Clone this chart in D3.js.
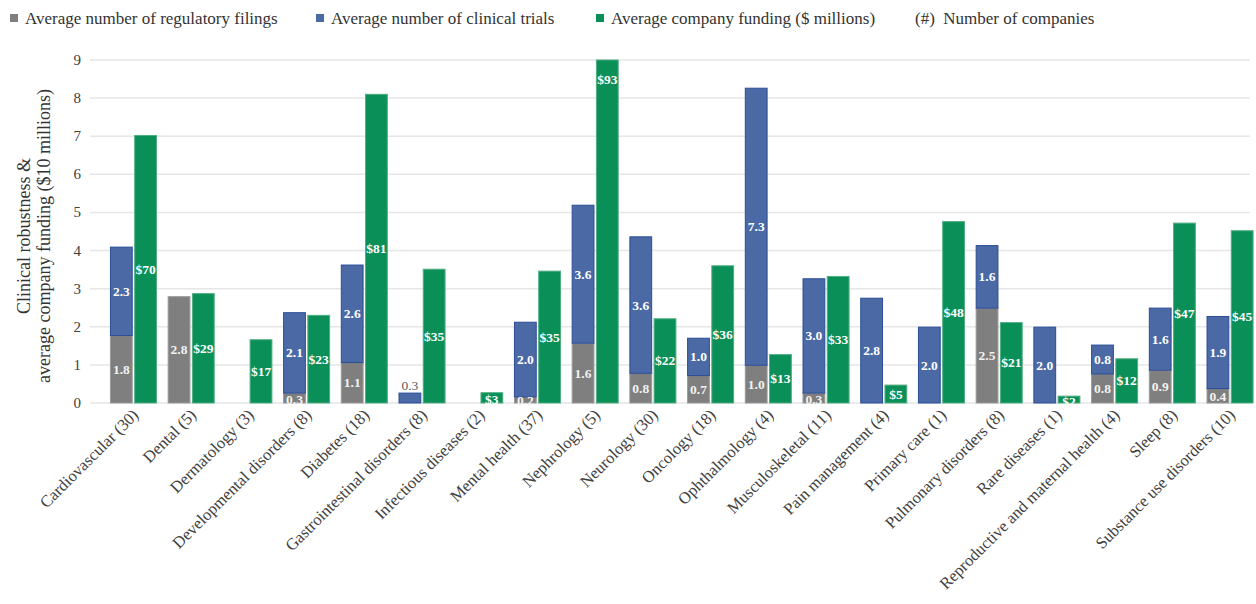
<!DOCTYPE html>
<html><head><meta charset="utf-8">
<script src="https://cdn.jsdelivr.net/npm/d3@7"></script>
<style>body{margin:0;background:#fff;}</style>
</head><body>
<script>
const categories = ["Cardiovascular (30)","Dental (5)","Dermatology (3)","Developmental disorders (8)","Diabetes (18)","Gastrointestinal disorders (8)","Infectious diseases (2)","Mental health (37)","Nephrology (5)","Neurology (30)","Oncology (18)","Ophthalmology (4)","Musculoskeletal (11)","Pain management (4)","Primary care (1)","Pulmonary disorders (8)","Rare diseases (1)","Reproductive and maternal health (4)","Sleep (8)","Substance use disorders (10)"];
const regulatoryFilings = [1.77,2.79,0,0.26,1.06,0,0,0.16,1.57,0.78,0.72,0.99,0.26,0,0,2.49,0,0.76,0.86,0.38];
const clinicalTrials    = [2.32,0,0,2.11,2.56,0.26,0,1.96,3.62,3.58,0.98,7.27,3.0,2.75,1.99,1.64,1.99,0.76,1.63,1.89];
const companyFunding    = [7.02,2.87,1.66,2.30,8.10,3.51,0.27,3.46,9.30,2.21,3.60,1.27,3.32,0.47,4.76,2.11,0.18,1.16,4.72,4.52]; // $10 millions
const yTicks = [0,1,2,3,4,5,6,7,8,9];
const legendLabels = ["Average number of regulatory filings","Average number of clinical trials","Average company funding ($ millions)"];

const FONT="Liberation Serif";
const W=1256,H=604;
const svg=d3.select("body").append("svg").attr("width",W).attr("height",H).style("display","block")
  .attr("font-family",FONT);
const y=d3.scaleLinear().domain([0,9]).range([403,60]);
const x=d3.scaleBand().domain(categories).range([104.6,1258.9]).paddingInner(0.185).paddingOuter(0.0925);
const sub=d3.scaleBand().domain(["s","f"]).range([0,x.bandwidth()]).paddingInner(0.06);
const C={gray:"#7f7f7f",grayS:"#9a9a9a",blue:"#4a69a5",blueS:"#2c4d98",green:"#0a8f58",greenS:"#4fae80"};

// grid
svg.append("g").selectAll("line").data(yTicks).join("line")
  .attr("x1",90).attr("x2",1250).attr("y1",d=>y(d)).attr("y2",d=>y(d))
  .attr("stroke","#e6e6e6").attr("stroke-width",1.5);
// y tick labels
svg.append("g").selectAll("text").data(yTicks).join("text")
  .attr("x",81).attr("y",d=>y(d)+5).attr("text-anchor","end").attr("font-family",FONT)
  .attr("font-size",15).attr("fill","#404040").text(d=>d);

// y title
const yt=svg.append("text").attr("transform","translate(34,236) rotate(-90)").attr("text-anchor","middle")
  .attr("font-family",FONT).attr("font-size",18).attr("fill","#333");
yt.append("tspan").attr("x",0).attr("dy","-0.22em").text("Clinical robustness &");
yt.append("tspan").attr("x",0).attr("dy","1.12em").text("average company funding ($10 millions)");

const g=svg.append("g");
categories.forEach((c,i)=>{
  const bx=x(c)+sub("s"), fx=x(c)+sub("f"), bw=sub.bandwidth();
  const gr=regulatoryFilings[i], bl=clinicalTrials[i], fu=companyFunding[i];
  if(gr>0){
    g.append("rect").attr("x",bx+0.5).attr("y",y(gr)).attr("width",bw-1).attr("height",y(0)-y(gr))
      .attr("fill",C.gray).attr("stroke",C.grayS).attr("stroke-width",1);
  }
  if(bl>0){
    g.append("rect").attr("x",bx+0.5).attr("y",y(gr+bl)).attr("width",bw-1).attr("height",y(gr)-y(gr+bl))
      .attr("fill",C.blue).attr("stroke",C.blueS).attr("stroke-width",1);
  }
  const fv=Math.min(fu,9);
  g.append("rect").attr("x",fx+0.5).attr("y",y(fv)).attr("width",bw-1).attr("height",y(0)-y(fv))
    .attr("fill",C.green).attr("stroke",C.greenS).attr("stroke-width",1);
  const lab=(cx,cy,t,col)=>g.append("text").attr("x",cx).attr("y",cy).attr("text-anchor","middle")
     .attr("dominant-baseline","central").attr("font-family",FONT).attr("font-size",13.5).attr("font-weight","bold").attr("fill",col).text(t);
  if(gr>0) lab(bx+bw/2,(y(0)+y(gr))/2+(gr<0.4?1:0),gr.toFixed(1),"#f2f2f2");
  if(bl>0){
    if(gr===0 && bl<0.5) lab(bx+bw/2,y(bl)-8,bl.toFixed(1),"#595959").attr("font-weight","normal");
    else lab(bx+bw/2,(y(gr)+y(gr+bl))/2,bl.toFixed(1),"#ffffff");
  }
  lab(fx+bw/2,fu>9?y(8.48):(y(0)+y(fv))/2+(fv<0.4?2:0),"$"+Math.round(fu*10),"#ffffff");
});

// x labels
svg.append("g").selectAll("text").data(categories).join("text")
  .attr("transform",d=>`translate(${x(d)+x.bandwidth()/2+6},416) rotate(-45)`)
  .attr("text-anchor","end").attr("font-family",FONT).attr("font-size",16.5).attr("fill","#404040").text(d=>d);

// legend
const leg=svg.append("g");
const lx=[10,316,596];
[C.gray,C.blue,C.green].forEach((col,i)=>{
  leg.append("rect").attr("x",lx[i]).attr("y",14).attr("width",8).attr("height",8).attr("fill",col);
  leg.append("text").attr("x",lx[i]+15).attr("y",24).attr("font-family",FONT).attr("font-size",17).attr("fill","#333").text(legendLabels[i]);
});
leg.append("text").attr("x",915).attr("y",24).attr("font-family",FONT).attr("font-size",17).attr("fill","#333")
  .attr("xml:space","preserve").text("(#)  Number of companies");
</script>
</body></html>
